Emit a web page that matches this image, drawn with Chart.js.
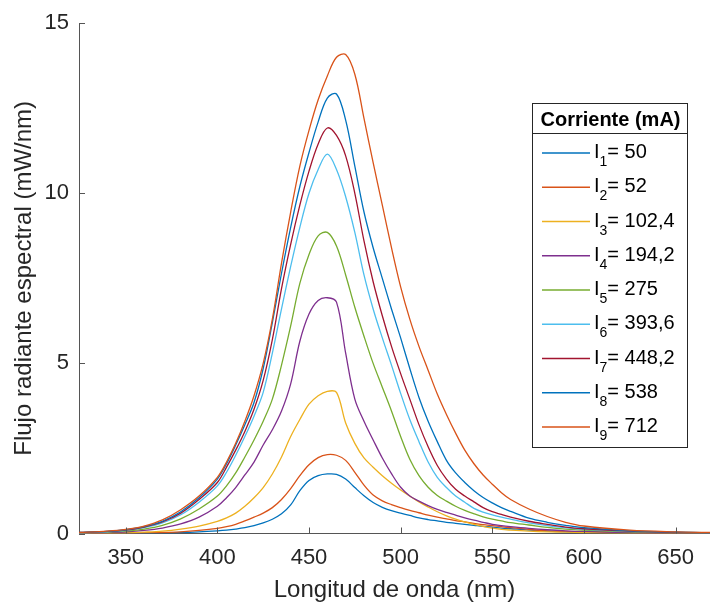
<!DOCTYPE html>
<html>
<head>
<meta charset="utf-8">
<title>Flujo radiante espectral</title>
<script src="https://cdn.jsdelivr.net/npm/chart.js@4.4.0/dist/chart.umd.min.js"></script>
<style>
    html, body { margin: 0; padding: 0; background: #fff; }
    #wrap { width: 710px; height: 605px; position: relative; }
</style>
</head>
<body>
<div id="wrap"><canvas id="espectro" width="710" height="605"></canvas></div>
<script>
// Longitudes de onda (nm) donde se leyeron las curvas
const longitudes = [324, 340, 350, 360, 370, 380, 390,
    400, 405, 410, 415, 420, 425, 430, 435, 440, 445, 450, 455, 460, 465, 470, 475, 480,
    485, 490, 495, 500, 505, 510, 515, 520, 525, 530, 535, 540, 545, 550, 555, 560,
    570, 580, 590, 600, 625, 650, 670];

// Flujo radiante espectral (mW/nm) para cada corriente
const i1 = [0.00, 0.005, 0.01, 0.015, 0.02, 0.03, 0.05,
    0.08, 0.10, 0.13, 0.17, 0.23, 0.31, 0.42, 0.58, 0.84, 1.26, 1.56, 1.70, 1.75, 1.74, 1.60, 1.35, 1.11,
    0.91, 0.77, 0.67, 0.60, 0.53, 0.46, 0.41, 0.37, 0.33, 0.30, 0.27, 0.24, 0.21, 0.19, 0.16, 0.14,
    0.10, 0.07, 0.05, 0.04, 0.02, 0.01, 0.00];
const i2 = [0.00, 0.005, 0.01, 0.02, 0.03, 0.05, 0.09,
    0.15, 0.20, 0.27, 0.37, 0.48, 0.60, 0.76, 1.00, 1.32, 1.70, 2.02, 2.23, 2.32, 2.30, 2.15, 1.80, 1.42,
    1.13, 0.96, 0.85, 0.76, 0.68, 0.61, 0.54, 0.48, 0.43, 0.38, 0.34, 0.30, 0.26, 0.23, 0.20, 0.17,
    0.12, 0.08, 0.06, 0.04, 0.02, 0.01, 0.00];
const i3 = [0.01, 0.015, 0.02, 0.04, 0.07, 0.13, 0.22,
    0.36, 0.46, 0.60, 0.80, 1.05, 1.35, 1.75, 2.25, 2.85, 3.35, 3.80, 4.05, 4.18, 4.15, 3.25, 2.65, 2.22,
    1.95, 1.70, 1.48, 1.28, 1.10, 0.93, 0.78, 0.64, 0.52, 0.42, 0.34, 0.27, 0.21, 0.16, 0.12, 0.10,
    0.07, 0.05, 0.04, 0.03, 0.01, 0.01, 0.00];
const i4 = [0.01, 0.03, 0.05, 0.09, 0.16, 0.28, 0.48,
    0.80, 1.05, 1.35, 1.72, 2.10, 2.60, 3.05, 3.60, 4.40, 5.65, 6.45, 6.85, 6.93, 6.80, 5.30, 3.95, 3.30,
    2.75, 2.22, 1.76, 1.36, 1.10, 0.95, 0.82, 0.71, 0.62, 0.54, 0.46, 0.39, 0.33, 0.27, 0.23, 0.20,
    0.15, 0.11, 0.08, 0.06, 0.03, 0.01, 0.01];
const i5 = [0.02, 0.04, 0.07, 0.13, 0.24, 0.43, 0.72,
    1.10, 1.40, 1.78, 2.25, 2.75, 3.30, 3.95, 4.95, 6.10, 7.35, 8.20, 8.75, 8.85, 8.45, 7.60, 6.65, 5.80,
    5.00, 4.30, 3.60, 2.85, 2.18, 1.70, 1.36, 1.12, 0.95, 0.80, 0.68, 0.58, 0.49, 0.42, 0.37, 0.32,
    0.25, 0.18, 0.13, 0.10, 0.05, 0.02, 0.01];
const i6 = [0.02, 0.05, 0.09, 0.17, 0.31, 0.55, 0.92,
    1.40, 1.80, 2.30, 2.85, 3.45, 4.15, 5.30, 6.60, 7.85, 9.00, 10.00, 10.70, 11.15, 10.70, 9.90, 8.85, 7.60,
    6.60, 5.75, 4.95, 4.12, 3.35, 2.70, 2.10, 1.65, 1.35, 1.10, 0.92, 0.74, 0.63, 0.55, 0.48, 0.42,
    0.31, 0.23, 0.17, 0.12, 0.06, 0.03, 0.02];
const i7 = [0.03, 0.06, 0.10, 0.19, 0.34, 0.60, 1.00,
    1.50, 1.95, 2.45, 3.00, 3.65, 4.50, 5.70, 7.20, 8.50, 9.65, 10.65, 11.45, 11.92, 11.70, 11.10, 10.00, 8.60,
    7.40, 6.40, 5.50, 4.70, 3.95, 3.20, 2.55, 2.00, 1.60, 1.30, 1.10, 0.93, 0.76, 0.64, 0.56, 0.48,
    0.36, 0.27, 0.19, 0.14, 0.07, 0.03, 0.02];
const i8 = [0.03, 0.06, 0.11, 0.20, 0.36, 0.64, 1.05,
    1.60, 2.05, 2.60, 3.20, 3.85, 4.85, 6.20, 7.65, 9.00, 10.20, 11.20, 12.10, 12.80, 12.92, 12.15, 10.80, 9.45,
    8.40, 7.50, 6.60, 5.75, 4.85, 4.00, 3.30, 2.70, 2.15, 1.78, 1.50, 1.26, 1.06, 0.90, 0.76, 0.65,
    0.45, 0.33, 0.24, 0.17, 0.08, 0.04, 0.02];
const i9 = [0.03, 0.07, 0.12, 0.22, 0.40, 0.70, 1.10,
    1.65, 2.10, 2.65, 3.30, 4.05, 5.00, 6.30, 7.95, 9.45, 10.80, 11.85, 12.75, 13.45, 14.00, 14.08, 13.50, 12.20,
    10.90, 9.65, 8.40, 7.25, 6.30, 5.50, 4.80, 4.10, 3.50, 2.95, 2.45, 2.05, 1.72, 1.45, 1.20, 1.00,
    0.72, 0.50, 0.33, 0.22, 0.10, 0.05, 0.03];

const series = [i1, i2, i3, i4, i5, i6, i7, i8, i9];
const corrientes = ['50', '52', '102,4', '194,2', '275', '393,6', '448,2', '538', '712'];
const colores = ['#0072BD', '#D95319', '#EDB120', '#7E2F8E', '#77AC30', '#4DBEEE', '#A2142F', '#0072BD', '#D95319'];

const ticksX = [350, 400, 450, 500, 550, 600, 650];
const ticksY = [0, 5, 10, 15];

const tituloLeyenda = 'Corriente (mA)';
const FUENTE = '"Liberation Sans", Arial, Helvetica, sans-serif';
const GRIS = '#262626';

// Marcas de eje hacia dentro (estilo MATLAB)
const ticksInternos = {
    id: 'ticksInternos',
    afterDatasetsDraw(chart) {
        const { ctx, chartArea, scales } = chart;
        ctx.save();
        ctx.strokeStyle = '#555';
        ctx.lineWidth = 1;
        ctx.beginPath();
        ticksX.forEach(v => {
            const x = Math.round(scales.x.getPixelForValue(v)) + 0.5;
            ctx.moveTo(x, chartArea.bottom);
            ctx.lineTo(x, chartArea.bottom - 6);
        });
        ticksY.forEach(v => {
            const y = Math.round(scales.y.getPixelForValue(v)) + 0.5;
            ctx.moveTo(chartArea.left, y);
            ctx.lineTo(chartArea.left + 6, y);
        });
        ctx.stroke();
        ctx.restore();
    }
};

// Leyenda con subíndices
const leyendaMatlab = {
    id: 'leyendaMatlab',
    afterDraw(chart) {
        const ctx = chart.ctx;
        const x0 = 532, y0 = 103, w = 155, h = 344;
        ctx.save();
        ctx.fillStyle = '#fff';
        ctx.fillRect(x0, y0, w, h);
        ctx.strokeStyle = GRIS;
        ctx.lineWidth = 1;
        ctx.strokeRect(x0 + 0.5, y0 + 0.5, w, h);
        ctx.beginPath();
        ctx.moveTo(x0, y0 + 30.5);
        ctx.lineTo(x0 + w, y0 + 30.5);
        ctx.stroke();

        ctx.fillStyle = '#000';
        ctx.font = 'bold 20px ' + FUENTE;
        ctx.textAlign = 'center';
        ctx.textBaseline = 'alphabetic';
        ctx.fillText(tituloLeyenda, x0 + w / 2 + 1, y0 + 23);

        chart.data.datasets.forEach((ds, i) => {
            const y = 153 + i * 34.25;
            ctx.strokeStyle = ds.borderColor;
            ctx.lineWidth = 1.3;
            ctx.beginPath();
            ctx.moveTo(542, y);
            ctx.lineTo(590, y);
            ctx.stroke();

            ctx.fillStyle = '#000';
            ctx.textAlign = 'left';
            let x = 594;
            ctx.font = '20px ' + FUENTE;
            ctx.fillText('I', x, y + 5);
            x += ctx.measureText('I').width;
            ctx.font = '14px ' + FUENTE;
            ctx.fillText(String(i + 1), x, y + 13);
            x += ctx.measureText(String(i + 1)).width;
            ctx.font = '20px ' + FUENTE;
            ctx.fillText('= ' + corrientes[i], x, y + 5);
        });
        ctx.restore();
    }
};

const datasets = series.map((serie, i) => ({
    label: 'I' + (i + 1) + '= ' + corrientes[i],
    data: longitudes.map((l, k) => ({ x: l, y: serie[k] })),
    borderColor: colores[i],
    borderWidth: 1.3,
    pointRadius: 0,
    fill: false,
    tension: 0.35,
    order: series.length - 1 - i
}));

new Chart(document.getElementById('espectro').getContext('2d'), {
    type: 'line',
    data: { datasets },
    options: {
        responsive: false,
        animation: false,
        devicePixelRatio: 1,
        layout: { padding: { top: 20, right: 0, left: 0, bottom: 0 } },
        plugins: {
            legend: { display: false },
            tooltip: { enabled: false }
        },
        scales: {
            x: {
                type: 'linear',
                min: 324.5,
                max: 668.8,
                afterBuildTicks: s => { s.ticks = ticksX.map(v => ({ value: v })); },
                afterFit: s => { s.height = 71.5; },
                grid: { display: false, drawTicks: false },
                border: { display: true, color: '#555', width: 1 },
                ticks: { color: GRIS, font: { family: FUENTE, size: 22 }, padding: 11, maxRotation: 0 },
                title: { display: true, text: 'Longitud de onda (nm)', color: GRIS, font: { family: FUENTE, size: 24 }, padding: { top: 0, bottom: 0 } }
            },
            y: {
                min: 0,
                max: 15,
                afterBuildTicks: s => { s.ticks = ticksY.map(v => ({ value: v })); },
                afterFit: s => { s.width = 79; },
                grid: { display: false, drawTicks: false },
                border: { display: true, color: '#555', width: 1 },
                ticks: { color: GRIS, font: { family: FUENTE, size: 22 }, padding: 10 },
                title: { display: true, text: 'Flujo radiante espectral (mW/nm)', color: GRIS, font: { family: FUENTE, size: 24 }, padding: { top: 10, bottom: 0 } }
            }
        }
    },
    plugins: [ticksInternos, leyendaMatlab]
});
</script>
</body>
</html>
